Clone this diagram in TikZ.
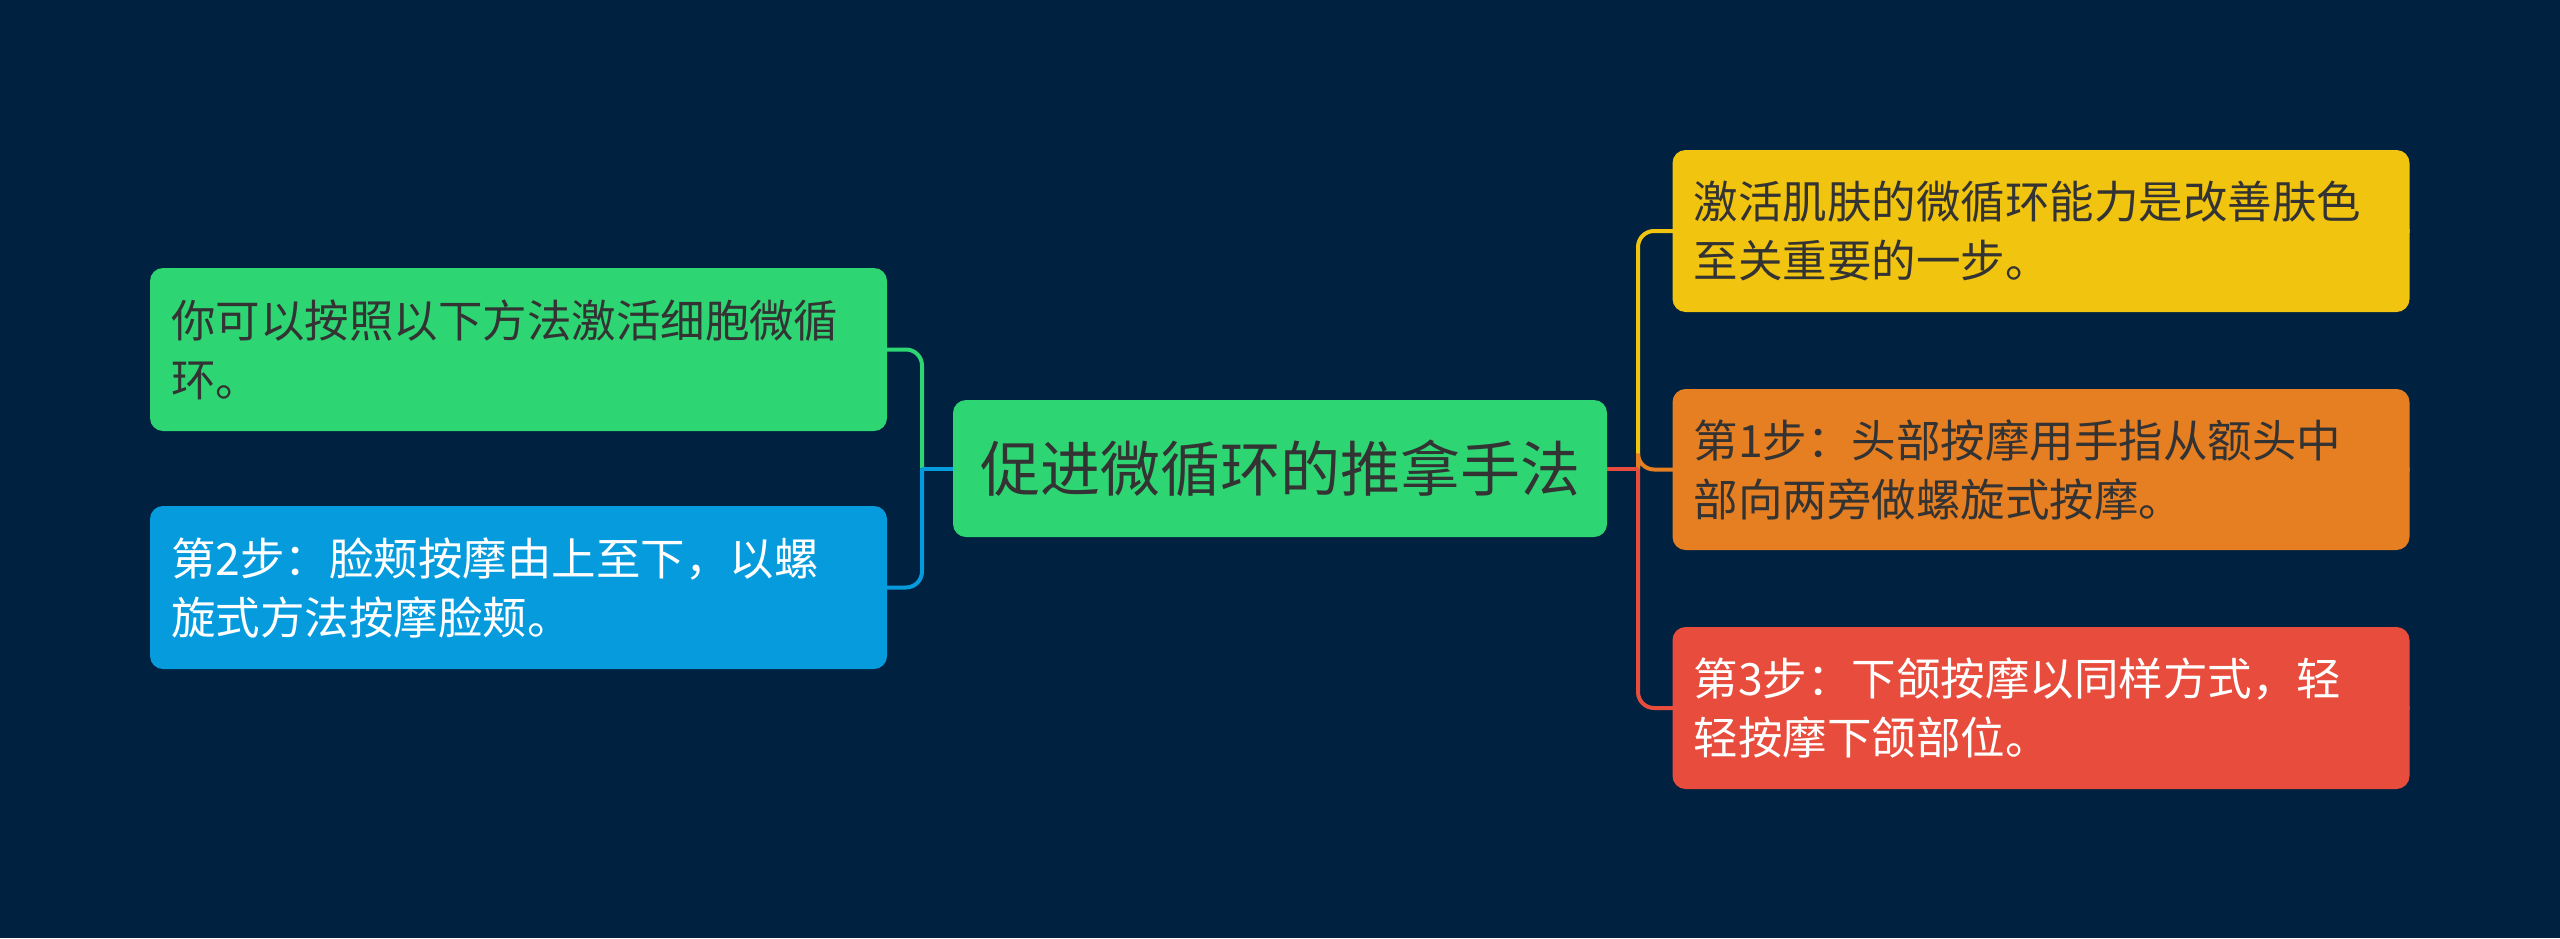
\documentclass[tikz,border=0pt]{standalone}
\usepackage{fontspec}
\newfontfamily\cjk{Noto Sans CJK SC}
\definecolor{bg}{HTML}{00213F}
\definecolor{cgreen}{HTML}{2ED573}
\definecolor{cblue}{HTML}{069BDD}
\definecolor{cyellow}{HTML}{F1C40F}
\definecolor{corange}{HTML}{E67E22}
\definecolor{cred}{HTML}{E74C3C}
\definecolor{ctext}{HTML}{333333}
\tikzset{
  box/.style={rounded corners=13pt, inner xsep=21pt, inner ysep=0pt, align=left,
    text width=695pt, minimum height=163pt,
    font=\cjk\fontsize{44.5pt}{59pt}\selectfont},
  mainbox/.style={rounded corners=13pt, fill=cgreen, text=ctext, minimum width=654pt,
    minimum height=137pt, inner sep=0pt, font=\cjk\fontsize{60pt}{72pt}\selectfont},
  link/.style={line width=4pt, rounded corners=16pt},
}
\begin{document}
\begin{tikzpicture}[x=1pt,y=-1pt]
\fill[bg] (0,0) rectangle (2560,938);
\useasboundingbox (0,0) rectangle (2560,938);
\node[mainbox] (c) at (1280,468.5) {促进微循环的推拿手法};
\node[box, fill=cgreen, text=ctext] (l1) at (518.5,349.5) {你可以按照以下方法激活细胞微循\\环。};
\node[box, fill=cblue, text=white] (l2) at (518.5,587.5) {第2步：脸颊按摩由上至下，以螺\\旋式方法按摩脸颊。};
\node[box, fill=cyellow, text=ctext, minimum height=162pt] (r1) at (2041,231) {激活肌肤的微循环能力是改善肤色\\至关重要的一步。};
\node[box, fill=corange, text=ctext, minimum height=161pt] (r2) at (2041,469.5) {第1步：头部按摩用手指从额头中\\部向两旁做螺旋式按摩。};
\node[box, fill=cred, text=white, minimum height=162pt] (r3) at (2041,708) {第3步：下颌按摩以同样方式，轻\\轻按摩下颌部位。};
\coordinate (jl) at (922,468.5);
\coordinate (jr) at (1638,468.5);
\draw[link, cgreen] (jl) |- (l1.east);
\draw[link, cblue] (jl) |- (l2.east);
\draw[link, cblue] (c.west) -- (jl);
\draw[link, cyellow] (jr) |- (r1.east);
\draw[link, corange] (jr) |- (r2.east);
\draw[link, cred] (jr) |- (r3.east);
\draw[link, cred] (c.east) -- (jr);
\end{tikzpicture}
\end{document}
